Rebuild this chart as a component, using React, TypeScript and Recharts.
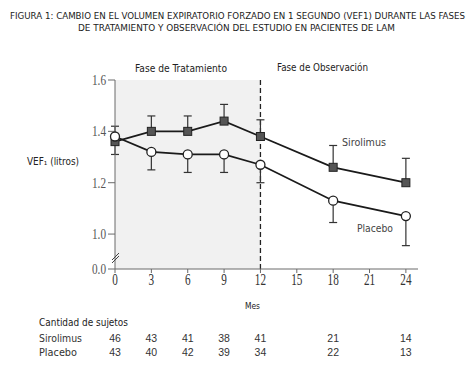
import { LineChart, Line, XAxis, YAxis, ErrorBar, ReferenceArea, ReferenceLine } from 'recharts';

const months = [0, 3, 6, 9, 12, 18, 24];
const sirolimus = [1.36, 1.4, 1.4, 1.44, 1.38, 1.26, 1.2];
const sirolimusUpper = [0.06, 0.06, 0.06, 0.065, 0.065, 0.085, 0.095];
const placebo = [1.38, 1.32, 1.31, 1.31, 1.27, 1.13, 1.07];
const placeboLower = [0.07, 0.07, 0.07, 0.07, 0.07, 0.085, 0.115];
const sirolimusN = [46, 43, 41, 38, 41, 21, 14];
const placeboN = [43, 40, 42, 39, 34, 22, 13];
const monthTicks = [0, 3, 6, 9, 12, 15, 18, 21, 24];
// broken axis: the bottom of the scale is shown as 0.0
const AXIS_FLOOR = 0.864;
const yTicks = [AXIS_FLOOR, 1.0, 1.2, 1.4, 1.6];

const data = months.map((m, i) => ({
  month: m,
  sirolimus: sirolimus[i],
  sErr: [0, sirolimusUpper[i]],
  placebo: placebo[i],
  pErr: [placeboLower[i], 0],
}));

const serif = '"Liberation Serif", serif';
const sans = '"DejaVu Sans Condensed", "DejaVu Sans", sans-serif';
const axisGray = '#6a6a6a';

const MonthTick = ({ x, y, payload }: any) => (
  <g transform={`translate(${x},${y})`}>
    <text transform="scale(0.7,1)" textAnchor="middle" dy={11.5} fontSize={16} fontFamily={serif} fill="#333">
      {payload.value}
    </text>
  </g>
);

const ValueTick = ({ x, y, payload }: any) => {
  const isFloor = payload.value === AXIS_FLOOR;
  return (
    <g transform={`translate(${x},${y})`}>
      <text transform="scale(0.75,1)" textAnchor="end" dy={5} fontSize={15} fontFamily={serif} fill="#555">
        {isFloor ? '0.0' : payload.value.toFixed(1)}
      </text>
      {isFloor && (
        <g stroke="#444" strokeWidth={1}>
          <line x1={6} y1={-9} x2={13} y2={-16} />
          <line x1={6} y1={-6} x2={13} y2={-13} />
        </g>
      )}
    </g>
  );
};

const countTick = (counts: number[]) => ({ x, y, payload }: any) => {
  const i = months.indexOf(payload.value);
  return (
    <text x={x} y={y} dy={8} textAnchor="middle" fontSize={10.5} fontFamily='"Liberation Sans", sans-serif' fill="#333">
      {i >= 0 ? counts[i] : ''}
    </text>
  );
};

const Square = ({ cx, cy }: any) => (
  <rect x={cx - 4} y={cy - 4} width={8} height={8} fill="#555" stroke="#222" strokeWidth={1} />
);

const Ring = ({ cx, cy }: any) => (
  <circle cx={cx} cy={cy} r={4.5} fill="#fff" stroke="#222" strokeWidth={1.3} />
);

export default function App() {
  return (
    <div style={{ position: 'absolute', left: 0, top: 0, width: 476, height: 375, background: '#fff' }}>
      <LineChart width={476} height={375} data={data} margin={{ top: 80, right: 58, bottom: 13, left: 0 }}>
        <ReferenceArea x1={0} x2={12} y1={AXIS_FLOOR} y2={1.6} fill="#f1f1f1" fillOpacity={1} stroke="none" />
        <ReferenceLine x={12} stroke="#222" strokeWidth={1.3} strokeDasharray="5 3" />
        <XAxis
          dataKey="month"
          type="number"
          domain={[0, 25]}
          ticks={monthTicks}
          height={65}
          tickSize={4}
          tickMargin={0}
          stroke={axisGray}
          tick={<MonthTick />}
        />
        {/* count rows are stacked below the month axis in id order */}
        <XAxis
          xAxisId="countA"
          dataKey="month"
          type="number"
          domain={[0, 25]}
          ticks={months}
          height={14}
          tickSize={0}
          tickMargin={0}
          axisLine={false}
          tickLine={false}
          tick={countTick(sirolimusN)}
        />
        <XAxis
          xAxisId="countB"
          dataKey="month"
          type="number"
          domain={[0, 25]}
          ticks={months}
          height={14}
          tickSize={0}
          tickMargin={0}
          axisLine={false}
          tickLine={false}
          tick={countTick(placeboN)}
        />
        <YAxis
          type="number"
          domain={[AXIS_FLOOR, 1.6]}
          ticks={yTicks}
          width={115}
          tickSize={7}
          stroke={axisGray}
          tick={<ValueTick />}
        />
        <Line
          dataKey="sirolimus"
          type="linear"
          stroke="#1a1a1a"
          strokeWidth={1.8}
          dot={<Square />}
          isAnimationActive={false}
        >
          <ErrorBar dataKey="sErr" direction="y" width={4} stroke="#333" strokeWidth={1.2} />
        </Line>
        <Line
          dataKey="placebo"
          type="linear"
          stroke="#1a1a1a"
          strokeWidth={1.8}
          dot={<Ring />}
          isAnimationActive={false}
        >
          <ErrorBar dataKey="pErr" direction="y" width={4} stroke="#333" strokeWidth={1.2} />
        </Line>
      </LineChart>
      <svg width={476} height={375} style={{ position: 'absolute', left: 0, top: 0, pointerEvents: 'none' }}>
        <g fontFamily={sans} fill="#222">
          <text x={237.5} y={19} textAnchor="middle" fontSize={9.5} textLength={455} lengthAdjust="spacingAndGlyphs">
            FIGURA 1: CAMBIO EN EL VOLUMEN EXPIRATORIO FORZADO EN 1 SEGUNDO (VEF1) DURANTE LAS FASES
          </text>
          <text x={236.5} y={31} textAnchor="middle" fontSize={9.5} textLength={317} lengthAdjust="spacingAndGlyphs">
            DE TRATAMIENTO Y OBSERVACIÓN DEL ESTUDIO EN PACIENTES DE LAM
          </text>
          <text x={181} y={71.5} textAnchor="middle" fontSize={10} textLength={92} lengthAdjust="spacingAndGlyphs">
            Fase de Tratamiento
          </text>
          <text x={322.5} y={71} textAnchor="middle" fontSize={10} textLength={91} lengthAdjust="spacingAndGlyphs">
            Fase de Observación
          </text>
          <text x={27} y={165} fontSize={10} textLength={52} lengthAdjust="spacingAndGlyphs">
            VEF₁ (litros)
          </text>
          <text x={342} y={145.5} fontSize={11} fill="#444" textLength={44} lengthAdjust="spacingAndGlyphs">
            Sirolimus
          </text>
          <text x={357} y={232} fontSize={11} fill="#444" textLength={36} lengthAdjust="spacingAndGlyphs">
            Placebo
          </text>
          <text x={245} y={309} fontSize={9.5} textLength={15} lengthAdjust="spacingAndGlyphs">
            Mes
          </text>
          <text x={39} y={325.5} fontSize={10} textLength={89} lengthAdjust="spacingAndGlyphs">
            Cantidad de sujetos
          </text>
          <text x={39} y={342} fontSize={10.5} fill="#333" textLength={43} lengthAdjust="spacingAndGlyphs">
            Sirolimus
          </text>
          <text x={39} y={355.5} fontSize={10.5} fill="#333" textLength={38} lengthAdjust="spacingAndGlyphs">
            Placebo
          </text>
        </g>
      </svg>
    </div>
  );
}
